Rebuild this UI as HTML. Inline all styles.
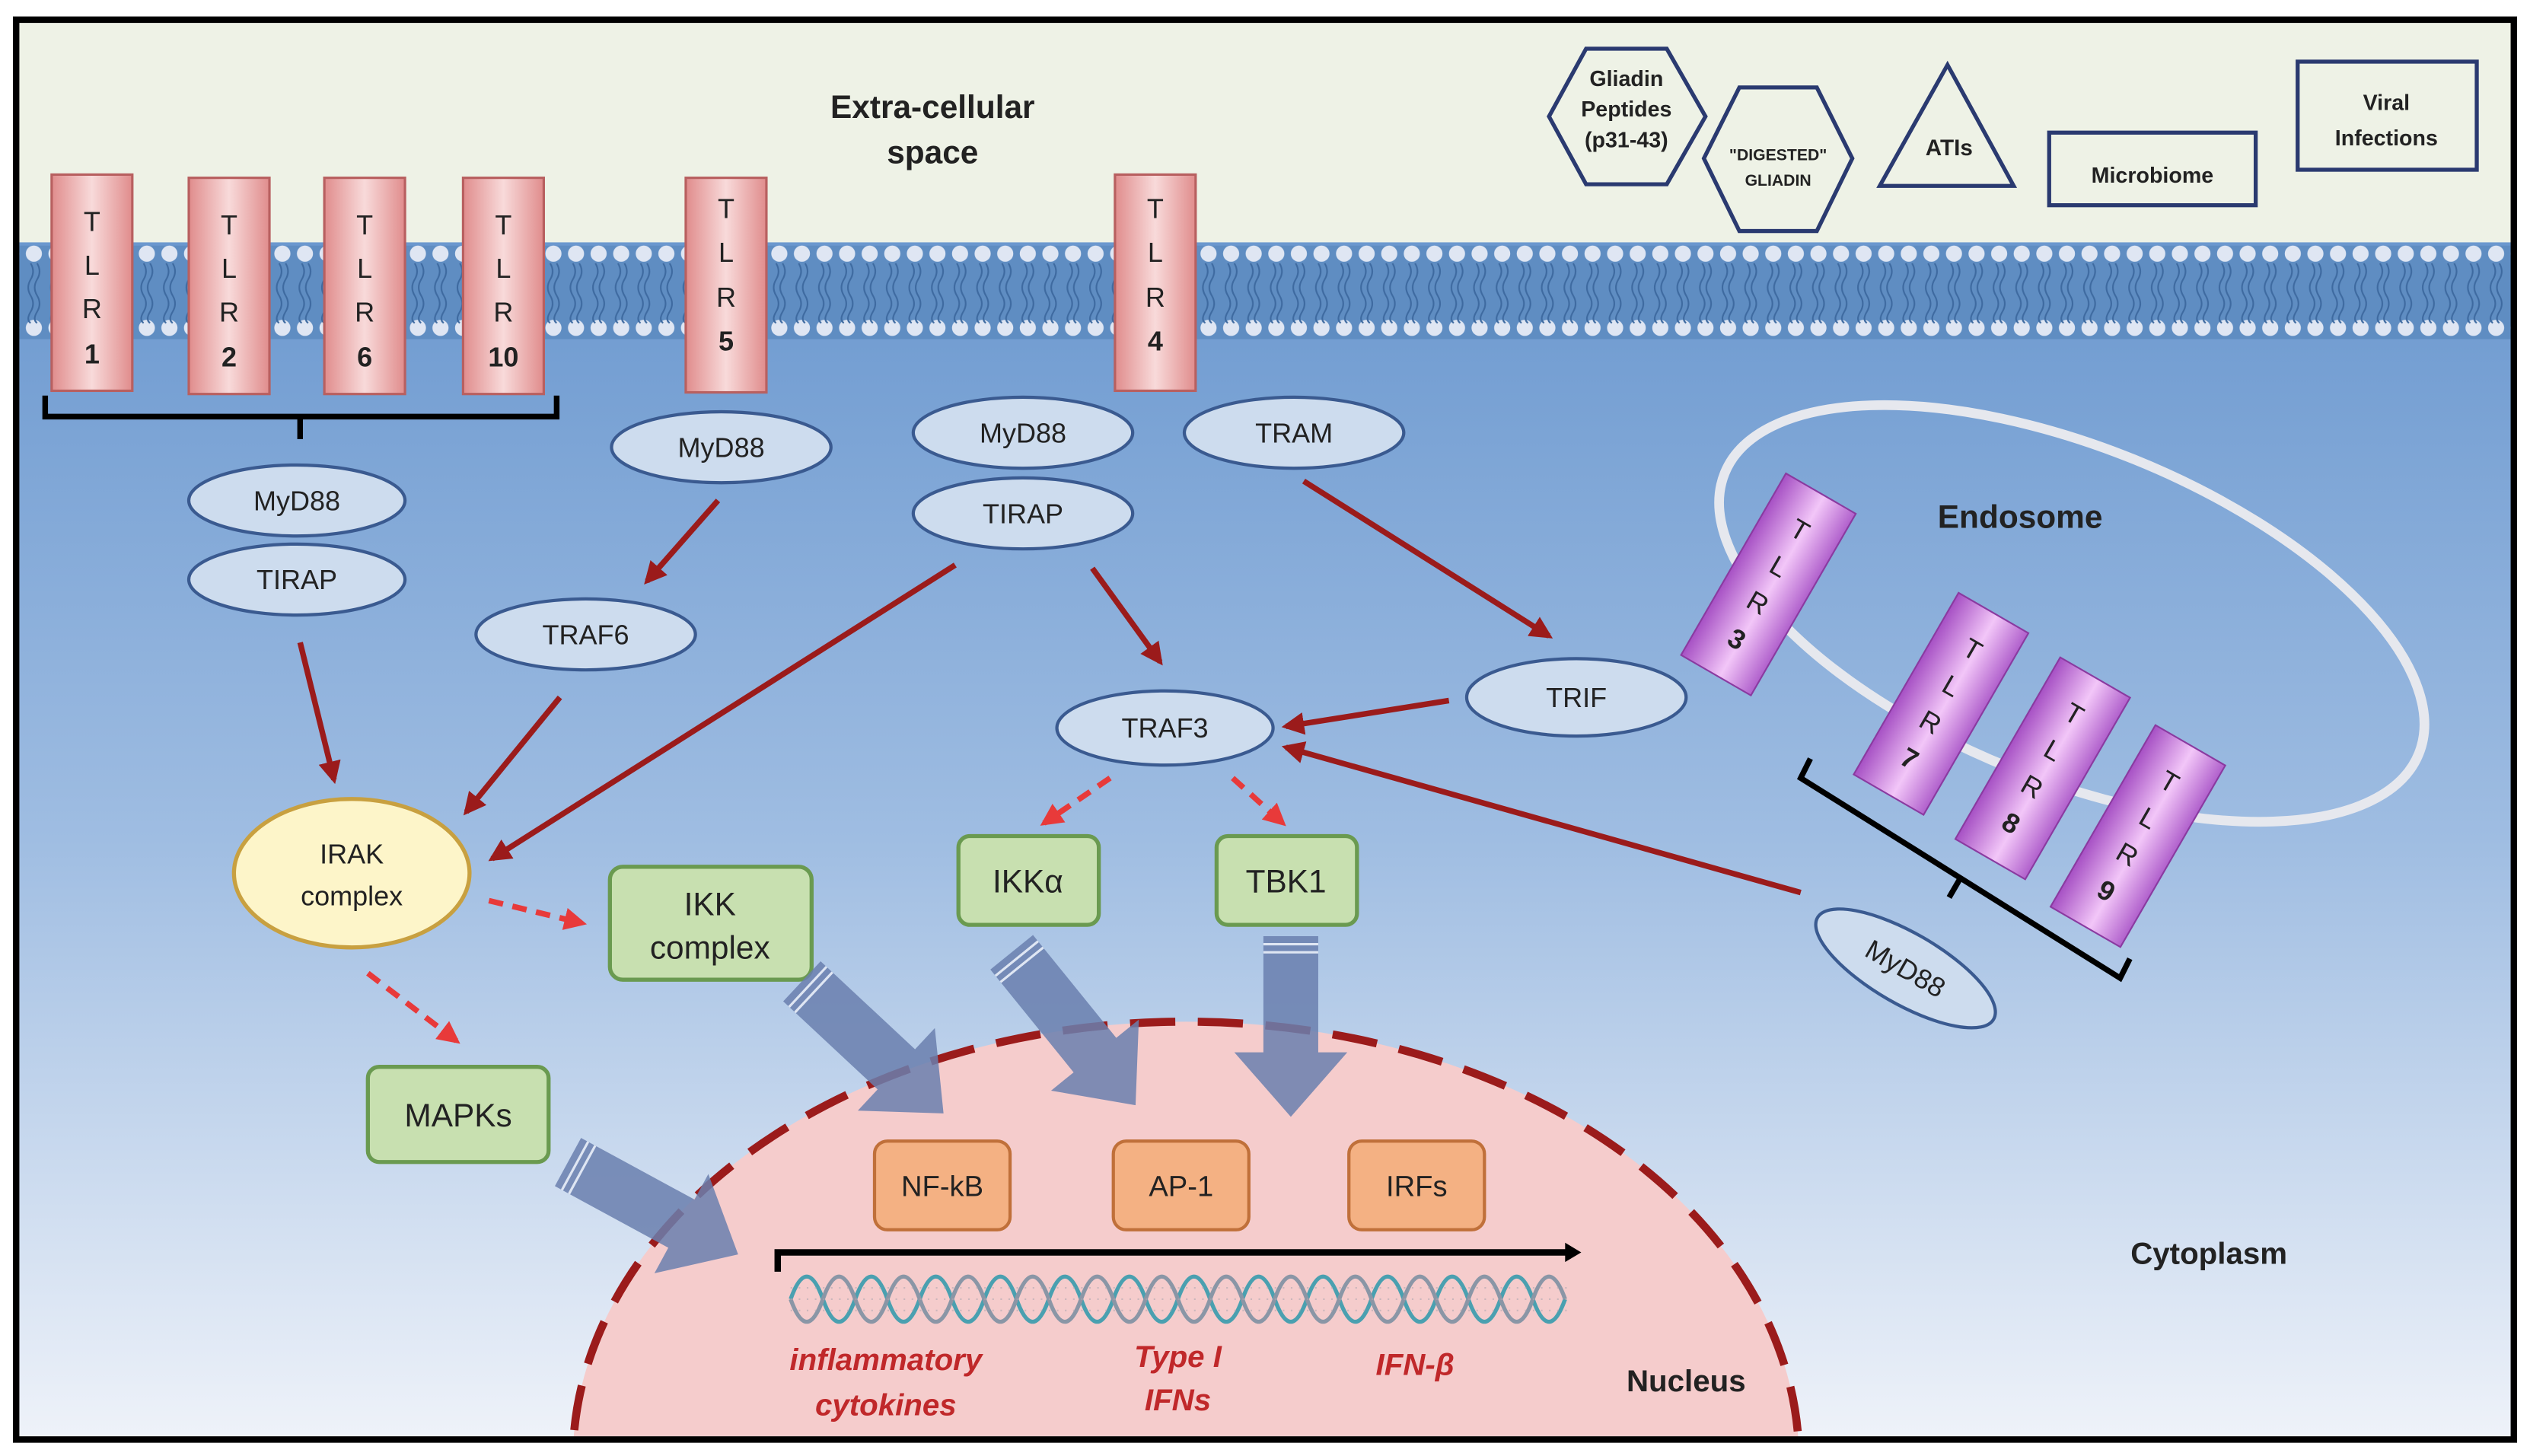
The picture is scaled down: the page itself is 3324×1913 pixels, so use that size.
<!DOCTYPE html>
<html><head><meta charset="utf-8"><style>html,body{margin:0;padding:0;background:#fff;width:3324px;height:1913px;overflow:hidden;}svg{display:block}</style></head>
<body>
<svg width="3324" height="1913" viewBox="0 0 1568 902" xmlns="http://www.w3.org/2000/svg" font-family="Liberation Sans, sans-serif">
<defs>
<linearGradient id="cyto" x1="0" y1="0" x2="0" y2="1">
<stop offset="0" stop-color="#6b98cf"/><stop offset="0.5" stop-color="#9fbde2"/><stop offset="1" stop-color="#eef2f9"/></linearGradient>
<linearGradient id="tlr" x1="0" y1="0" x2="1" y2="0">
<stop offset="0" stop-color="#e08c8c"/><stop offset="0.5" stop-color="#f8dada"/><stop offset="1" stop-color="#e08c8c"/></linearGradient>
<linearGradient id="ptlr" x1="0" y1="0" x2="1" y2="0">
<stop offset="0" stop-color="#a650c4"/><stop offset="0.55" stop-color="#f2c6f8"/><stop offset="1" stop-color="#b060cc"/></linearGradient>
<marker id="ah" viewBox="0 0 10 10" refX="8" refY="5" markerWidth="4" markerHeight="4" orient="auto"><path d="M0,0 L10,5 L0,10 Z" fill="#9b1b1b"/></marker>
<marker id="ahr" viewBox="0 0 10 10" refX="8" refY="5" markerWidth="4" markerHeight="4" orient="auto"><path d="M0,0 L10,5 L0,10 Z" fill="#e83a3a"/></marker>
<pattern id="heads" x="0" y="150" width="14" height="60" patternUnits="userSpaceOnUse">
<circle cx="7" cy="7" r="5" fill="#dfe6f3"/><circle cx="7" cy="53" r="5" fill="#dfe6f3"/>
<path d="M5,13 q3,5 0,10 t0,10 t0,10 t0,7" stroke="#3e6aa0" fill="none" stroke-width="1"/>
<path d="M9,13 q3,5 0,10 t0,10 t0,10 t0,7" stroke="#3e6aa0" fill="none" stroke-width="1"/>
</pattern>
<clipPath id="inner"><rect x="12" y="14" width="1545" height="876"/></clipPath>
</defs>
<rect x="0" y="0" width="1568" height="902" fill="#fff"/>
<g clip-path="url(#inner)">
<rect x="12" y="14" width="1545" height="876" fill="#eef2e6"/>
<rect x="12" y="150" width="1545" height="740" fill="url(#cyto)"/>
<rect x="12" y="152" width="1545" height="58" fill="#5f8dc2"/>
<rect x="12" y="150" width="1545" height="60" fill="url(#heads)"/>
<ellipse cx="735" cy="905" rx="380" ry="272" fill="#f5cccc" stroke="#9b1b1b" stroke-width="5" stroke-dasharray="28,14"/>
</g>
<rect x="10" y="12" width="1548" height="880" fill="none" stroke="#000" stroke-width="4"/>

<g stroke="#b86060" stroke-width="1.5" fill="url(#tlr)">
<rect x="32" y="108" width="50" height="134"/><rect x="117" y="110" width="50" height="134"/>
<rect x="201" y="110" width="50" height="134"/><rect x="287" y="110" width="50" height="134"/>
<rect x="425" y="110" width="50" height="133"/><rect x="691" y="108" width="50" height="134"/>
</g>
<g font-size="17" text-anchor="middle" fill="#222">
<text x="57" y="143">T</text><text x="57" y="170">L</text><text x="57" y="197">R</text><text x="57" y="225" font-weight="bold">1</text>
<text x="142" y="145">T</text><text x="142" y="172">L</text><text x="142" y="199">R</text><text x="142" y="227" font-weight="bold">2</text>
<text x="226" y="145">T</text><text x="226" y="172">L</text><text x="226" y="199">R</text><text x="226" y="227" font-weight="bold">6</text>
<text x="312" y="145">T</text><text x="312" y="172">L</text><text x="312" y="199">R</text><text x="312" y="227" font-weight="bold">10</text>
<text x="450" y="135">T</text><text x="450" y="162">L</text><text x="450" y="190">R</text><text x="450" y="217" font-weight="bold">5</text>
<text x="716" y="135">T</text><text x="716" y="162">L</text><text x="716" y="190">R</text><text x="716" y="217" font-weight="bold">4</text>
</g>
<path d="M28,245 V258 H345 V245 M186,258 V272" stroke="#000" stroke-width="3.5" fill="none"/>

<g font-weight="bold" text-anchor="middle" fill="#222">
<text x="578" y="73" font-size="20">Extra-cellular</text><text x="578" y="101" font-size="20">space</text>
<text x="1252" y="327" font-size="20">Endosome</text>
<text x="1369" y="783" font-size="19">Cytoplasm</text>
<text x="1045" y="862" font-size="19">Nucleus</text>
</g>
<g stroke="#2a3a70" stroke-width="2.5" fill="none">
<polygon points="983,30 1033,30 1057,72 1033,114 983,114 960,72"/>
<polygon points="1078,54 1126,54 1148,98 1126,143 1078,143 1056,98"/>
<polygon points="1207,40 1248,115 1165,115"/>
<rect x="1270" y="82" width="128" height="45"/>
<rect x="1424" y="38" width="111" height="67"/>
</g>
<g font-weight="bold" text-anchor="middle" fill="#222" font-size="13.5">
<text x="1008" y="53">Gliadin</text><text x="1008" y="72">Peptides</text><text x="1008" y="91">(p31-43)</text>
<text x="1102" y="99" font-size="10">"DIGESTED"</text><text x="1102" y="115" font-size="10">GLIADIN</text>
<text x="1208" y="96" font-size="14">ATIs</text>
<text x="1334" y="113">Microbiome</text>
<text x="1479" y="68">Viral</text><text x="1479" y="90">Infections</text>
</g>

<ellipse cx="1284" cy="380" rx="232" ry="103" transform="rotate(22 1284 380)" fill="none" stroke="#e6e8ee" stroke-width="6"/>
<g stroke="#8a3aa0" stroke-width="1" fill="url(#ptlr)">
<rect x="-25" y="-65" width="50" height="130" transform="translate(1096,362) rotate(30)"/>
<rect x="-25" y="-65" width="50" height="130" transform="translate(1203,436) rotate(30)"/>
<rect x="-25" y="-65" width="50" height="130" transform="translate(1266,476) rotate(30)"/>
<rect x="-25" y="-65" width="50" height="130" transform="translate(1325,518) rotate(30)"/>
</g>
<g font-size="17" text-anchor="middle" fill="#222">
<g transform="translate(1096,362) rotate(30)"><text y="-33">T</text><text y="-7">L</text><text y="19">R</text><text y="45" font-weight="bold">3</text></g>
<g transform="translate(1203,436) rotate(30)"><text y="-33">T</text><text y="-7">L</text><text y="19">R</text><text y="45" font-weight="bold">7</text></g>
<g transform="translate(1266,476) rotate(30)"><text y="-33">T</text><text y="-7">L</text><text y="19">R</text><text y="45" font-weight="bold">8</text></g>
<g transform="translate(1325,518) rotate(30)"><text y="-33">T</text><text y="-7">L</text><text y="19">R</text><text y="45" font-weight="bold">9</text></g>
</g>
<path d="M1122,470 L1116,482 L1314,606 L1320,594 M1215,544 L1208,556" stroke="#000" stroke-width="3.5" fill="none"/>

<g fill="#cddcee" stroke="#3a5a90" stroke-width="2">
<ellipse cx="184" cy="310" rx="67" ry="22"/><ellipse cx="184" cy="359" rx="67" ry="22"/>
<ellipse cx="447" cy="277" rx="68" ry="22"/><ellipse cx="363" cy="393" rx="68" ry="22"/>
<ellipse cx="634" cy="268" rx="68" ry="22"/><ellipse cx="634" cy="318" rx="68" ry="22"/>
<ellipse cx="802" cy="268" rx="68" ry="22"/><ellipse cx="977" cy="432" rx="68" ry="24"/>
<ellipse cx="722" cy="451" rx="67" ry="23"/>
<ellipse cx="1181" cy="600" rx="63" ry="22" transform="rotate(30 1181 600)"/>
</g>
<ellipse cx="218" cy="541" rx="73" ry="46" fill="#fdf5c9" stroke="#c8a040" stroke-width="2.5"/>
<g font-size="17" text-anchor="middle" fill="#222">
<text x="184" y="316">MyD88</text><text x="184" y="365">TIRAP</text>
<text x="447" y="283">MyD88</text><text x="363" y="399">TRAF6</text>
<text x="634" y="274">MyD88</text><text x="634" y="324">TIRAP</text>
<text x="802" y="274">TRAM</text><text x="977" y="438">TRIF</text>
<text x="722" y="457">TRAF3</text>
<text x="1181" y="606" transform="rotate(30 1181 600)">MyD88</text>
<text x="218" y="535">IRAK</text><text x="218" y="561">complex</text>
</g>

<g fill="#c8e0b0" stroke="#6a9a50" stroke-width="2.5">
<rect x="378" y="537" width="125" height="70" rx="8"/>
<rect x="594" y="518" width="87" height="55" rx="7"/>
<rect x="754" y="518" width="87" height="55" rx="7"/>
<rect x="228" y="661" width="112" height="59" rx="7"/>
</g>
<g font-size="20" text-anchor="middle" fill="#222">
<text x="440" y="567">IKK</text><text x="440" y="594">complex</text>
<text x="637" y="553">IKKα</text><text x="797" y="553">TBK1</text>
<text x="284" y="698">MAPKs</text>
</g>
<g fill="#f4b183" stroke="#c0703a" stroke-width="2">
<rect x="542" y="707" width="84" height="55" rx="8"/>
<rect x="690" y="707" width="84" height="55" rx="8"/>
<rect x="836" y="707" width="84" height="55" rx="8"/>
</g>
<g font-size="18" text-anchor="middle" fill="#222">
<text x="584" y="741">NF-kB</text><text x="732" y="741">AP-1</text><text x="878" y="741">IRFs</text>
</g>

<g stroke="#9b1b1b" stroke-width="3.5" fill="none" marker-end="url(#ah)">
<line x1="186" y1="398" x2="207" y2="483"/>
<line x1="347" y1="432" x2="289" y2="503"/>
<line x1="592" y1="350" x2="305" y2="532"/>
<line x1="445" y1="310" x2="401" y2="360"/>
<line x1="677" y1="352" x2="719" y2="410"/>
<line x1="808" y1="298" x2="960" y2="394"/>
<line x1="898" y1="434" x2="797" y2="450"/>
<line x1="1116" y1="553" x2="797" y2="463"/>
</g>
<g stroke="#e83a3a" stroke-width="3.5" fill="none" stroke-dasharray="9,6" marker-end="url(#ahr)">
<line x1="303" y1="558" x2="361" y2="572"/>
<line x1="228" y1="603" x2="283" y2="645"/>
<line x1="688" y1="482" x2="647" y2="510"/>
<line x1="764" y1="482" x2="795" y2="510"/>
</g>

<g fill="#6a7fae" fill-opacity="0.85">
<path d="M0,-17 L80,-17 L80,-35 L120,0 L80,35 L80,17 L0,17 Z" transform="translate(497,608) rotate(43)"/>
<path d="M0,-17 L82,-17 L82,-35 L122,0 L82,35 L82,17 L0,17 Z" transform="translate(627,590) rotate(51)"/>
<path d="M0,-17 L72,-17 L72,-35 L112,0 L72,35 L72,17 L0,17 Z" transform="translate(800,580) rotate(90)"/>
<path d="M0,-17 L80,-17 L80,-35 L120,0 L80,35 L80,17 L0,17 Z" transform="translate(352,720) rotate(28.5)"/>
</g>
<g stroke="#dfe6f3" stroke-width="1.5">
<g transform="translate(497,608) rotate(43)"><line x1="5" y1="-17" x2="5" y2="17"/><line x1="10" y1="-17" x2="10" y2="17"/></g>
<g transform="translate(627,590) rotate(51)"><line x1="5" y1="-17" x2="5" y2="17"/><line x1="10" y1="-17" x2="10" y2="17"/></g>
<g transform="translate(800,580) rotate(90)"><line x1="5" y1="-17" x2="5" y2="17"/><line x1="10" y1="-17" x2="10" y2="17"/></g>
<g transform="translate(352,720) rotate(28.5)"><line x1="5" y1="-17" x2="5" y2="17"/><line x1="10" y1="-17" x2="10" y2="17"/></g>
</g>

<path d="M482,788 V776 H974" stroke="#000" stroke-width="4" fill="none"/>
<path d="M970,770 L980,776 L970,782 Z" fill="#000"/>
<g fill="none" stroke-width="2.5">
<path d="M490,805 q10,-28 20,0 t20,0 t20,0 t20,0 t20,0 t20,0 t20,0 t20,0 t20,0 t20,0 t20,0 t20,0 t20,0 t20,0 t20,0 t20,0 t20,0 t20,0 t20,0 t20,0 t20,0 t20,0 t20,0 t20,0" stroke="#4aa0b0"/>
<path d="M490,805 q10,28 20,0 t20,0 t20,0 t20,0 t20,0 t20,0 t20,0 t20,0 t20,0 t20,0 t20,0 t20,0 t20,0 t20,0 t20,0 t20,0 t20,0 t20,0 t20,0 t20,0 t20,0 t20,0 t20,0 t20,0" stroke="#8a96a6"/>
</g>
<path d="M490,798 H975 M490,805 H975 M490,812 H975" stroke="#b0a8b0" stroke-width="1" stroke-dasharray="1,4" opacity="0.6"/>
<g font-size="19" font-weight="bold" font-style="italic" text-anchor="middle" fill="#c0282a">
<text x="549" y="849">inflammatory</text><text x="549" y="877">cytokines</text>
<text x="730" y="847">Type I</text><text x="730" y="874">IFNs</text>
<text x="877" y="852">IFN-β</text>
</g>
</svg>
</body></html>
